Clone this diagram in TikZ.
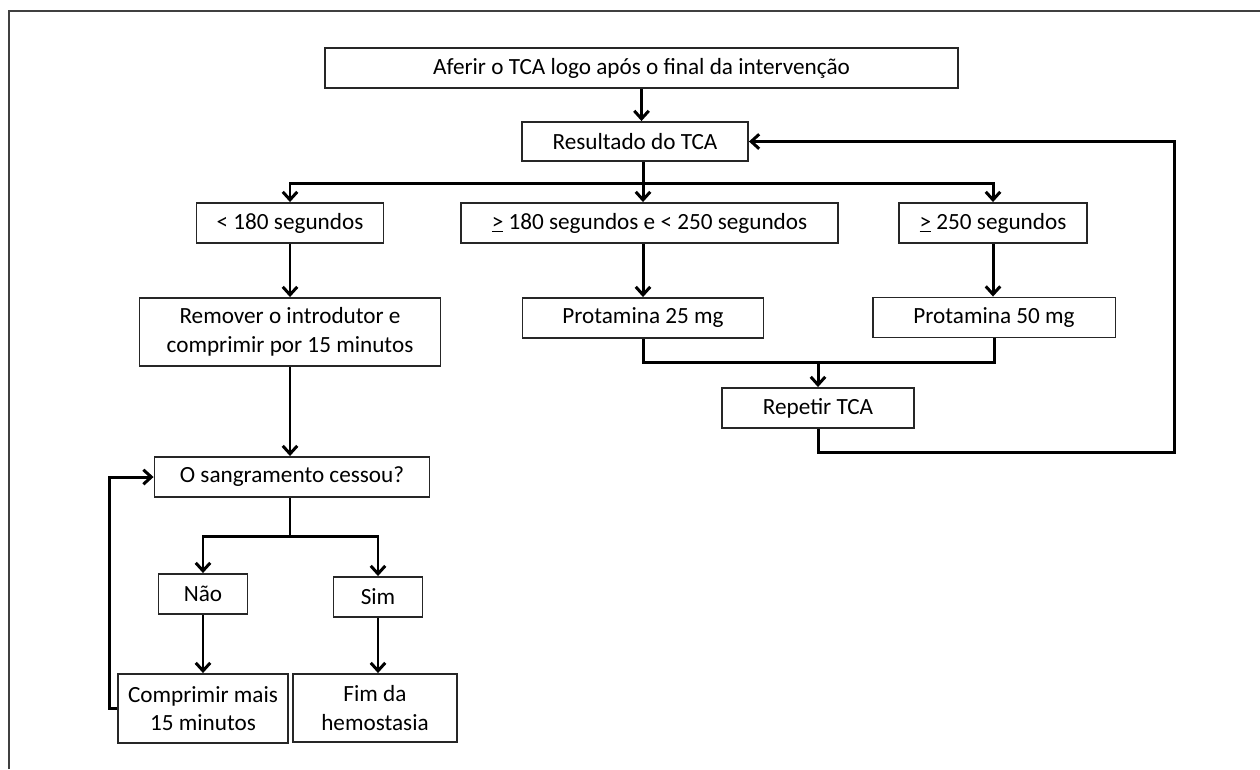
\documentclass[tikz,border=0pt]{standalone}
\usepackage{fontspec}
\setmainfont{Carlito}
\usetikzlibrary{arrows.meta,calc}
\tikzset{box/.style={draw=black!85,line width=1.1pt,inner sep=2pt,align=center},
 link/.style={line width=1.7pt},
 flow/.style={link,-{Straight Barb[length=1.6mm,width=2.9mm]}},
 frame/.style={draw=black!75,line width=1pt},
 every node/.style={font=\fontsize{13.2}{16.2}\selectfont}}

\begin{document}
\begin{tikzpicture}[x=0.02cm,y=-0.02cm]
\useasboundingbox (0,0) rectangle (1260,769);
\draw[frame] (9,769)--(9,10.7)--(1262,10.7);
% nodes
\node[box,minimum width=12.66cm,minimum height=0.8cm] (top) at (641.5,68) {Aferir o TCA logo após o final da intervenção};
\node[box,minimum width=4.52cm,minimum height=0.78cm] (res) at (635,141.5) {Resultado do TCA};
\node[box,minimum width=3.74cm,minimum height=0.8cm] (lt) at (290,223) {< 180 segundos};
\node[box,minimum width=7.54cm,minimum height=0.8cm] (mid) at (649.5,223) {\underline{>} 180 segundos e < 250 segundos};
\node[box,minimum width=3.76cm,minimum height=0.8cm] (ge) at (993,223) {\underline{>} 250 segundos};
\node[box,minimum width=6.02cm,minimum height=1.36cm] (rem) at (290,332) {Remover o introdutor e\\comprimir por 15 minutos};
\node[box,minimum width=4.82cm,minimum height=0.8cm] (prot25) at (643,318) {Protamina 25 mg};
\node[box,minimum width=4.86cm,minimum height=0.8cm] (prot50) at (994,317.5) {Protamina 50 mg};
\node[box,minimum width=3.84cm,minimum height=0.8cm] (rep) at (818,408) {Repetir TCA};
\node[box,minimum width=5.5cm,minimum height=0.8cm] (sang) at (292,477) {O sangramento cessou?};
\node[box,minimum width=1.78cm,minimum height=0.8cm] (nao) at (203,594) {Não};
\node[box,minimum width=1.78cm,minimum height=0.8cm] (sim) at (378,597) {Sim};
\node[box,minimum width=3.4cm,minimum height=1.38cm] (comp) at (203,708.5) {Comprimir mais\\15 minutos};
\node[box,minimum width=3.28cm,minimum height=1.36cm] (fim) at (375,708) {Fim da\\hemostasia};
% junctions
\coordinate (split) at (643,183);
\coordinate (merge) at (818,362.5);
\coordinate (loopR) at (1174,452);
\coordinate (split2) at (290,536);
% connectors
\draw[flow] (top.south) -- (top.south |- res.north);
\draw[link] (res.south -| split) -- (split);
\draw[flow] (split) -| (lt.north);
\draw[flow] (split) -- (split |- mid.north);
\draw[flow] (split) -| (ge.north);
\draw[flow] (lt.south) -- (rem.north);
\draw[flow] (split |- mid.south) -- (prot25.north);
\draw[flow] (ge.south) -- (ge.south |- prot50.north);
\draw[link] (prot25.south) |- (merge) -| (prot50.south);
\draw[flow] (merge) -- (rep.north);
\draw[flow] (rep.south) |- (loopR) |- (res.east);
\draw[flow] (rem.south) -- (rem.south |- sang.north);
\draw[link] (sang.south -| split2) -- (split2);
\draw[flow] (split2) -| (nao.north);
\draw[flow] (split2) -| (sim.north);
\draw[flow] (nao.south) -- (comp.north);
\draw[flow] (sim.south) -- (sim.south |- fim.north);
\draw[flow] (comp.west) -- ++(-8,0) |- (sang.west);
\end{tikzpicture}
\end{document}
